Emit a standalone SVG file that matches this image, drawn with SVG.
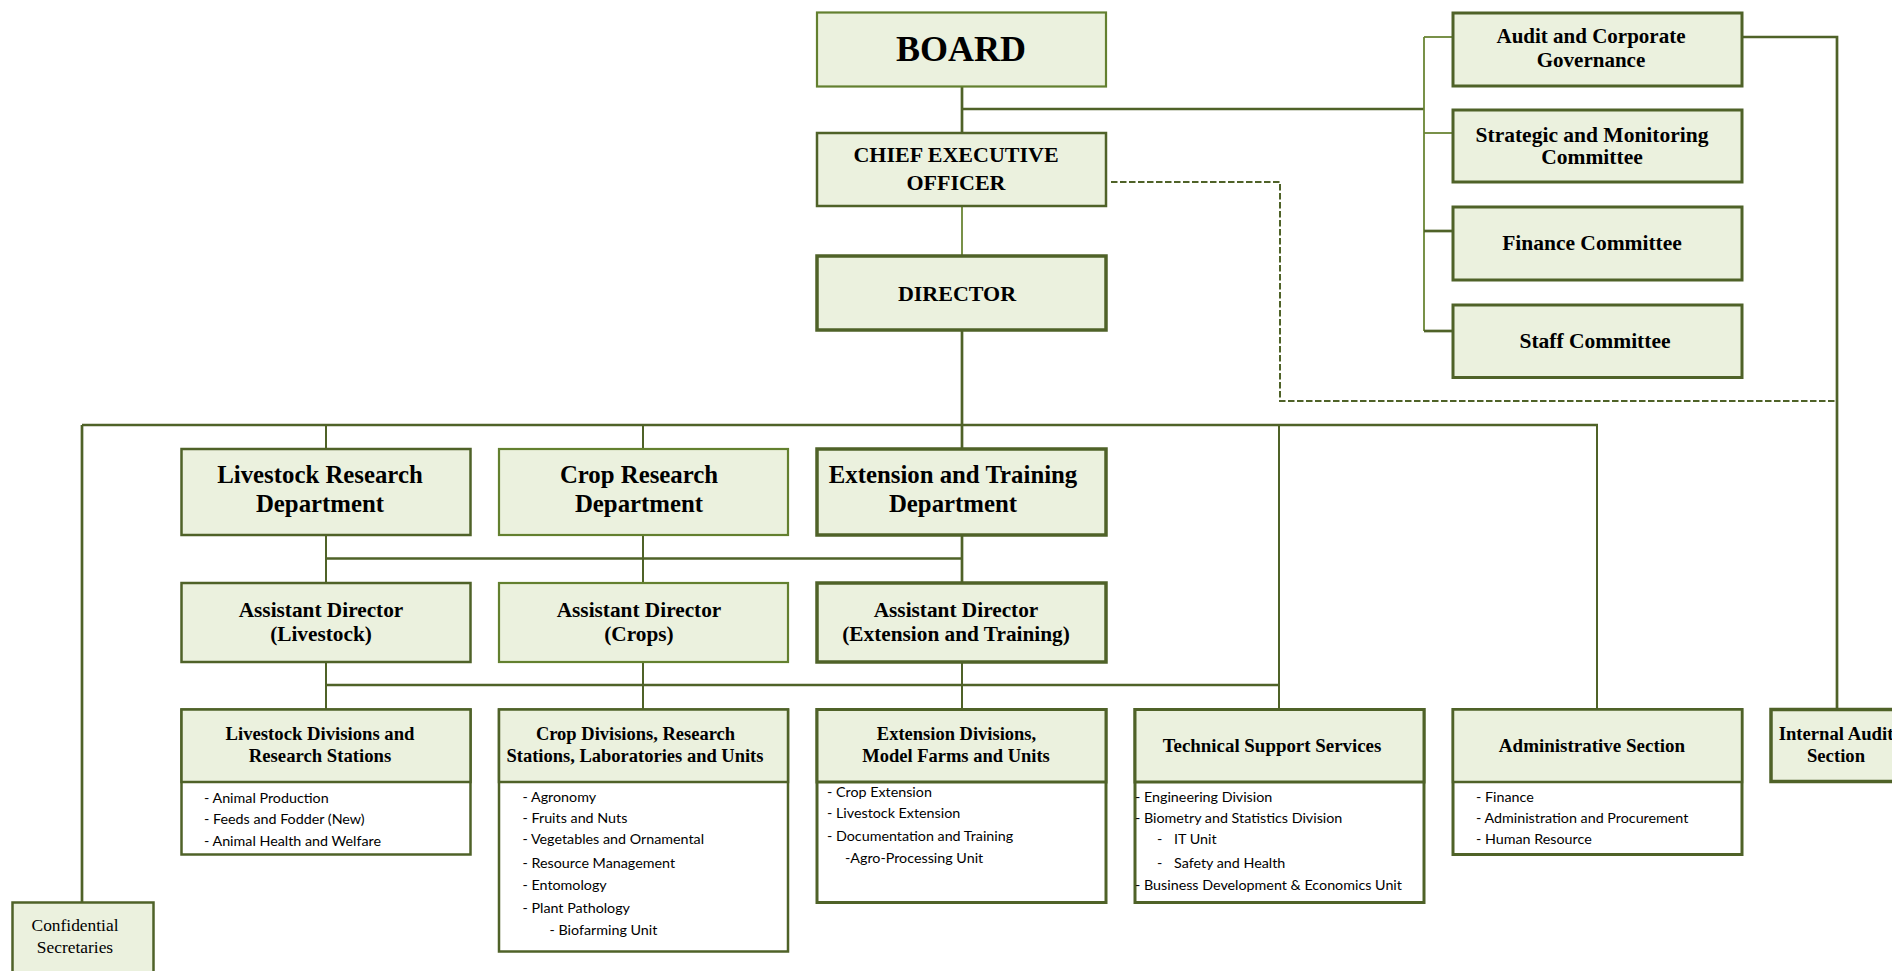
<svg xmlns="http://www.w3.org/2000/svg" width="1892" height="971" viewBox="0 0 1892 971">
<style>
.bx{fill:#EBF1DE;stroke:#4F6228;stroke-width:3}
.bl{fill:#EBF1DE;stroke:#63802F;stroke-width:2.2}
.bm{fill:#EBF1DE;stroke:#4F6228;stroke-width:2.5}
.bt{fill:#EBF1DE;stroke:#4F6228;stroke-width:3.5}
.wb{fill:#FFFFFF;stroke:#4F6228;stroke-width:2.5}
.ln{fill:none;stroke:#4F6228;stroke-width:2.7}
.lt{fill:none;stroke:#4F6228;stroke-width:2}
.ll{fill:none;stroke:#6A8535;stroke-width:1.8}
.ds{fill:none;stroke:#4F6228;stroke-width:2;stroke-dasharray:6.5 2.5}
.h{font-family:"Liberation Serif","Times New Roman",serif;font-weight:bold;fill:#000;text-anchor:middle}
.it{font-family:Lato,"Liberation Sans",sans-serif;font-size:14.3px;fill:#000}
</style>
<rect width="1892" height="971" fill="#FFFFFF"/>
<g id="connectors">
<path class="ln" d="M962,86 V133"/>
<path class="ln" d="M962,109 H1424"/>
<path class="ll" d="M1424,37 V331"/>
<path class="ll" d="M1424,37 H1453"/>
<path class="ll" d="M1424,133 H1453"/>
<path class="ln" d="M1424,231 H1453"/>
<path class="ln" d="M1424,331 H1453"/>
<path class="ln" d="M1742,37 H1837 V709"/>
<path class="ll" d="M962,206 V255"/>
<path class="ds" d="M1111,182 H1280 V401 H1837"/>
<path class="ln" d="M962,330 V449"/>
<path class="ln" d="M82,425 H1598"/>
<path class="ln" d="M82,425 V902"/>
<path class="lt" d="M326,425 V449"/>
<path class="lt" d="M643,425 V449"/>
<path class="lt" d="M1279,425 V709"/>
<path class="lt" d="M1597,425 V709"/>
<path class="lt" d="M326,535 V583"/>
<path class="lt" d="M643,535 V583"/>
<path class="ln" d="M962,535 V583"/>
<path class="ln" d="M326,558.5 H962"/>
<path class="lt" d="M326,662 V709"/>
<path class="lt" d="M643,662 V709"/>
<path class="lt" d="M962,662 V709"/>
<path class="ln" d="M326,685 H1279"/>
</g>
<g id="board">
<rect class="bl" x="817" y="12.5" width="289" height="74"/>
<text class="h" x="961" y="61" font-size="36">BOARD</text>
</g>
<g id="ceo">
<rect class="bm" x="817" y="133" width="289" height="73"/>
<text class="h" x="956" y="161.5" font-size="22">CHIEF EXECUTIVE</text>
<text class="h" x="956" y="190" font-size="22">OFFICER</text>
</g>
<g id="director">
<rect class="bt" x="817" y="256" width="289" height="74"/>
<text class="h" x="957" y="301" font-size="22">DIRECTOR</text>
</g>
<g id="audit-governance">
<rect class="bx" x="1453" y="13" width="289" height="73"/>
<text class="h" x="1591" y="43.3" font-size="21">Audit and Corporate</text>
<text class="h" x="1591" y="66.7" font-size="21">Governance</text>
</g>
<g id="strategic-committee">
<rect class="bx" x="1453" y="110" width="289" height="72"/>
<text class="h" x="1592" y="141.7" font-size="21.5">Strategic and Monitoring</text>
<text class="h" x="1592" y="164.3" font-size="21.5">Committee</text>
</g>
<g id="finance-committee">
<rect class="bx" x="1453" y="207" width="289" height="73"/>
<text class="h" x="1592" y="250" font-size="21.5">Finance Committee</text>
</g>
<g id="staff-committee">
<rect class="bx" x="1453" y="305" width="289" height="72.5"/>
<text class="h" x="1595" y="348.3" font-size="21.5">Staff Committee</text>
</g>
<g id="livestock-dept">
<rect class="bm" x="181.5" y="449" width="289" height="86"/>
<text class="h" x="320" y="483.3" font-size="24.8">Livestock Research</text>
<text class="h" x="320" y="511.7" font-size="24.8">Department</text>
</g>
<g id="crop-dept">
<rect class="bl" x="499" y="449" width="289" height="86"/>
<text class="h" x="639" y="483.3" font-size="24.8">Crop Research</text>
<text class="h" x="639" y="511.7" font-size="24.8">Department</text>
</g>
<g id="extension-dept">
<rect class="bt" x="817" y="449" width="289" height="86"/>
<text class="h" x="953" y="483.3" font-size="24.8">Extension and Training</text>
<text class="h" x="953" y="511.7" font-size="24.8">Department</text>
</g>
<g id="ad-livestock">
<rect class="bm" x="181.5" y="583" width="289" height="79"/>
<text class="h" x="321" y="616.7" font-size="21.3">Assistant Director</text>
<text class="h" x="321" y="640.7" font-size="21.3">(Livestock)</text>
</g>
<g id="ad-crops">
<rect class="bl" x="499" y="583" width="289" height="79"/>
<text class="h" x="639" y="616.7" font-size="21.3">Assistant Director</text>
<text class="h" x="639" y="640.7" font-size="21.3">(Crops)</text>
</g>
<g id="ad-extension">
<rect class="bt" x="817" y="583" width="289" height="79"/>
<text class="h" x="956" y="616.7" font-size="21.3">Assistant Director</text>
<text class="h" x="956" y="640.7" font-size="21.3">(Extension and Training)</text>
</g>
<g id="livestock-divisions">
<rect class="wb" x="181.5" y="709.5" width="289" height="145"/>
<rect class="bm" x="181.5" y="709.5" width="289" height="72.5"/>
<text class="h" x="320" y="740" font-size="18.7">Livestock Divisions and</text>
<text class="h" x="320" y="762" font-size="18.7">Research Stations</text>
<text class="it" x="204" y="802.5">- Animal Production</text>
<text class="it" x="204" y="824.3">- Feeds and Fodder (New)</text>
<text class="it" x="204" y="845.7">- Animal Health and Welfare</text>
</g>
<g id="crop-divisions">
<rect class="wb" x="499" y="709.5" width="289" height="242"/>
<rect class="bm" x="499" y="709.5" width="289" height="72.5"/>
<text class="h" x="635.5" y="740" font-size="18.5">Crop Divisions, Research</text>
<text class="h" x="635" y="762" font-size="18.5">Stations, Laboratories and Units</text>
<text class="it" x="522.5" y="801.7">- Agronomy</text>
<text class="it" x="522.5" y="822.7">- Fruits and Nuts</text>
<text class="it" x="522.5" y="844.3">- Vegetables and Ornamental</text>
<text class="it" x="522.5" y="868.3">- Resource Management</text>
<text class="it" x="522.5" y="890">- Entomology</text>
<text class="it" x="522.5" y="913.3">- Plant Pathology</text>
<text class="it" x="549.5" y="935">- Biofarming Unit</text>
</g>
<g id="extension-divisions">
<rect class="wb" x="817" y="709.5" width="289" height="193" style="stroke-width:3"/>
<rect class="bx" x="817" y="709.5" width="289" height="72.5"/>
<text class="h" x="956.5" y="740" font-size="18.5">Extension Divisions,</text>
<text class="h" x="956" y="762" font-size="18.5">Model Farms and Units</text>
<text class="it" x="827" y="797.3">- Crop Extension</text>
<text class="it" x="827" y="818.3">- Livestock Extension</text>
<text class="it" x="827" y="841">- Documentation and Training</text>
<text class="it" x="845" y="862.7">-Agro-Processing Unit</text>
</g>
<g id="technical-support">
<rect class="wb" x="1135" y="709.5" width="289" height="193" style="stroke-width:3"/>
<rect class="bx" x="1135" y="709.5" width="289" height="72.5"/>
<text class="h" x="1272" y="751.7" font-size="18.9">Technical Support Services</text>
<text class="it" x="1135" y="801.7">- Engineering Division</text>
<text class="it" x="1135" y="822.7">- Biometry and Statistics Division</text>
<text class="it" y="844.3"><tspan x="1157">-</tspan><tspan x="1174">IT Unit</tspan></text>
<text class="it" y="868.3"><tspan x="1157">-</tspan><tspan x="1174">Safety and Health</tspan></text>
<text class="it" x="1135" y="890">- Business Development &amp; Economics Unit</text>
</g>
<g id="administrative-section">
<rect class="wb" x="1453" y="709.5" width="289" height="145" style="stroke-width:3"/>
<rect class="bm" x="1453" y="709.5" width="289" height="72.5"/>
<text class="h" x="1592" y="751.7" font-size="19">Administrative Section</text>
<text class="it" x="1476" y="801.7">- Finance</text>
<text class="it" x="1476" y="822.7">- Administration and Procurement</text>
<text class="it" x="1476" y="844.3">- Human Resource</text>
</g>
<g id="internal-audit">
<rect class="bt" x="1771" y="709.5" width="140" height="72"/>
<text class="h" x="1836" y="740" font-size="18.7">Internal Audit</text>
<text class="h" x="1836" y="762" font-size="18.7">Section</text>
</g>
<g id="confidential-secretaries">
<rect class="bm" x="12.5" y="902.5" width="141" height="80"/>
<text x="75" y="930.7" font-family="'Liberation Serif','Times New Roman',serif" font-size="17.4" text-anchor="middle">Confidential</text>
<text x="75" y="952.7" font-family="'Liberation Serif','Times New Roman',serif" font-size="17.4" text-anchor="middle">Secretaries</text>
</g>
</svg>
